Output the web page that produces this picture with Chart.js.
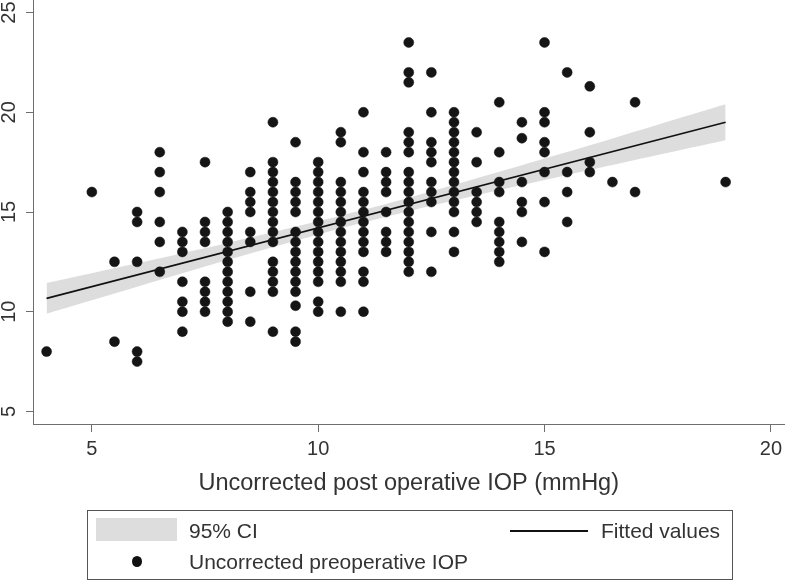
<!DOCTYPE html>
<html>
<head>
<meta charset="utf-8">
<script src="https://cdn.jsdelivr.net/npm/chart.js@4.4.1/dist/chart.umd.min.js"></script>
<style>
  body { margin: 0; background: #fff; }
  #wrap { position: relative; width: 787px; height: 580px; font-family: "Liberation Sans", Arial, sans-serif; }
  #legend { position: absolute; left: 87px; top: 510px; width: 644px; height: 68px; border: 1px solid #555; }
  .leg { position: absolute; font-size: 21px; line-height: 21px; color: #333; white-space: nowrap; }
</style>
</head>
<body>
<div id="wrap">
  <canvas id="grafico" width="787" height="580"></canvas>
  <div id="legend">
    <div style="position:absolute;left:8px;top:7px;width:81px;height:23px;background:#dddddd"></div>
    <div class="leg" style="left:101px;top:9px">95% CI</div>
    <div style="position:absolute;left:422px;top:19px;width:78px;height:2px;background:#111"></div>
    <div class="leg" style="left:513px;top:9px">Fitted values</div>
    <div style="position:absolute;left:44px;top:45px;width:10px;height:11px;border-radius:50%;background:#111"></div>
    <div class="leg" style="left:101px;top:40px">Uncorrected preoperative IOP</div>
  </div>
</div>
<script>
// post operative IOP columns (x) and the preoperative values read in each column (y)
const postIOP = [4, 5, 5.5, 6, 6.5, 7, 7.5, 8, 8.5, 9, 9.5, 10, 10.5, 11, 11.5, 12, 12.5, 13, 13.5, 14, 14.5, 15, 15.5, 16, 16.5, 17, 19];
const preIOP = [
  [8],
  [16],
  [12.5, 8.5],
  [15, 14.5, 12.5, 8, 7.5],
  [18, 17, 16, 14.5, 13.5, 12],
  [14, 13.5, 13, 11.5, 10.5, 10, 9],
  [17.5, 14.5, 14, 13.5, 11.5, 11, 10.5, 10],
  [15, 14.5, 14, 13.5, 13, 12.5, 12, 11.5, 11, 10.5, 10, 9.5],
  [17, 16, 15.5, 15, 14, 13.5, 11, 9.5],
  [19.5, 17.5, 17, 16.5, 16, 15.5, 15, 14.5, 14, 13.5, 12.5, 12, 11.5, 11, 9],
  [18.5, 16.5, 16, 15.5, 15, 14, 13.5, 13, 12.5, 12, 11.5, 11, 10.3, 9, 8.5],
  [17.5, 17, 16.5, 16, 15.5, 15, 14.5, 14, 13.5, 13, 12.5, 12, 11.5, 10.5, 10],
  [19, 18.5, 16.5, 16, 15.5, 15, 14.5, 14, 13.5, 13, 12.5, 12, 11.5, 10],
  [20, 18, 17, 16, 15.5, 15, 14.5, 14, 13.5, 13, 12, 11.5, 10],
  [18, 17, 16.5, 16, 15, 14, 13.5, 13],
  [23.5, 22, 21.5, 19, 18.5, 18, 17, 16.5, 16, 15.5, 15, 14.5, 14, 13.5, 13, 12.5, 12],
  [22, 20, 18.5, 18, 17.5, 16.5, 16, 15.5, 14, 12],
  [20, 19.5, 19, 18.5, 18, 17.5, 17, 16.5, 16, 15.5, 15, 14, 13],
  [19, 17.5, 16, 15.5, 15, 14.5],
  [20.5, 18, 16.5, 16, 14.5, 14, 13.5, 13, 12.5],
  [19.5, 18.7, 16.5, 15.5, 15, 13.5],
  [23.5, 20, 19.5, 18.5, 18, 17, 15.5, 13],
  [22, 17, 16, 14.5],
  [21.3, 19, 17.5, 17],
  [16.5],
  [20.5, 16],
  [16.5]
];

// fitted line end points and 95% CI band
const fitX = [4, 19];
const fitY = [10.67, 19.5];
const ciX = [4, 6, 8, 10, 11, 12, 14, 16, 17.5, 19];
const ciUpper = [11.44, 12.43, 13.45, 14.53, 15.11, 15.72, 17.02, 18.35, 19.38, 20.4];
const ciLower = [9.9, 11.25, 12.59, 13.87, 14.47, 15.04, 16.1, 17.11, 17.86, 18.6];

const xTicks = [5, 10, 15, 20];
const yTicks = [5, 10, 15, 20, 25];

const fuente = '"Liberation Sans", Arial, sans-serif';
const gris = '#6e6e6e';

const puntos = [];
postIOP.forEach((x, i) => preIOP[i].forEach(y => puntos.push({ x, y })));

const ejeYRotado = {
  id: 'ejeYRotado',
  afterDraw(chart) {
    const ctx = chart.ctx;
    const escala = chart.scales.y;
    ctx.save();
    ctx.fillStyle = '#333';
    ctx.font = '20px ' + fuente;
    ctx.textAlign = 'center';
    ctx.textBaseline = 'alphabetic';
    yTicks.forEach(v => {
      ctx.save();
      ctx.translate(15, escala.getPixelForValue(v));
      ctx.rotate(-Math.PI / 2);
      ctx.fillText(String(v), 0, 0);
      ctx.restore();
    });
    ctx.restore();
  }
};

new Chart(document.getElementById('grafico'), {
  type: 'scatter',
  data: {
    datasets: [
      {
        label: 'Uncorrected preoperative IOP',
        data: puntos,
        backgroundColor: '#151515',
        borderColor: '#151515',
        borderWidth: 0.5,
        pointRadius: 5,
        order: 0
      },
      {
        label: 'Fitted values',
        data: fitX.map((x, i) => ({ x, y: fitY[i] })),
        showLine: true,
        borderColor: '#111',
        borderWidth: 1.6,
        pointRadius: 0,
        order: 1
      },
      {
        label: '95% CI',
        data: ciX.map((x, i) => ({ x, y: ciUpper[i] })),
        showLine: true,
        borderWidth: 0,
        borderColor: 'rgba(0,0,0,0)',
        backgroundColor: '#dddddd',
        pointRadius: 0,
        tension: 0.3,
        fill: '+1',
        order: 2
      },
      {
        label: 'ci lower',
        data: ciX.map((x, i) => ({ x, y: ciLower[i] })),
        showLine: true,
        borderWidth: 0,
        borderColor: 'rgba(0,0,0,0)',
        pointRadius: 0,
        tension: 0.3,
        order: 3
      }
    ]
  },
  options: {
    responsive: false,
    animation: false,
    layout: { autoPadding: false, padding: { top: 0, right: 0, bottom: 76, left: 0 } },
    plugins: { legend: { display: false }, tooltip: { enabled: false } },
    scales: {
      x: {
        type: 'linear',
        min: 3.7,
        max: 20.3,
        afterBuildTicks: s => { s.ticks = xTicks.map(v => ({ value: v })); },
        afterFit: s => { s.height = 80; },
        grid: { drawOnChartArea: false, drawTicks: true, tickLength: 8, color: gris },
        border: { color: gris, width: 1 },
        ticks: { color: '#333', font: { family: fuente, size: 20 }, padding: 5, maxRotation: 0, autoSkip: false },
        title: {
          display: true,
          text: 'Uncorrected post operative IOP (mmHg)',
          color: '#333',
          font: { family: fuente, size: 23.5 },
          padding: { top: 0, bottom: 6 }
        }
      },
      y: {
        type: 'linear',
        min: 4.37,
        max: 25.63,
        afterBuildTicks: s => { s.ticks = yTicks.map(v => ({ value: v })); },
        afterFit: s => { s.width = 33; },
        grid: { drawOnChartArea: false, drawTicks: true, tickLength: 7, color: gris },
        border: { color: gris, width: 1 },
        ticks: { display: false }
      }
    }
  },
  plugins: [ejeYRotado]
});
</script>
</body>
</html>
